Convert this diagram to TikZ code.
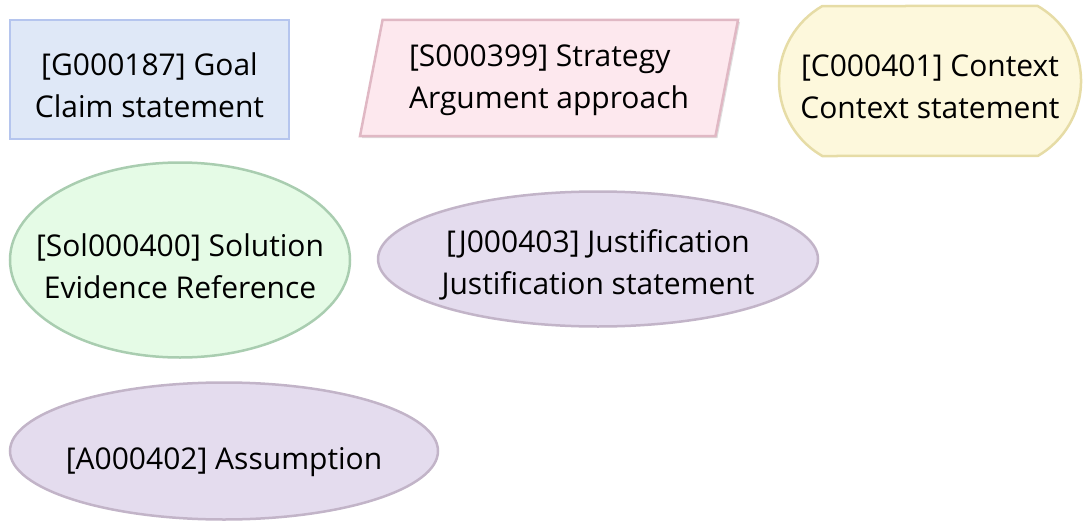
\documentclass[tikz,border=0pt]{standalone}
\usepackage{fontspec}
\setmainfont{Open Sans}
\usetikzlibrary{shapes.geometric,shapes.misc,shadows}

\definecolor{goalfill}{HTML}{DFE8F7}
\definecolor{goaldraw}{HTML}{B5C5EE}
\definecolor{stratfill}{HTML}{FDE8EE}
\definecolor{stratdraw}{HTML}{E0B8C4}
\definecolor{ctxfill}{HTML}{FDF8DC}
\definecolor{ctxdraw}{HTML}{E6DCA6}
\definecolor{solfill}{HTML}{E5FBE6}
\definecolor{soldraw}{HTML}{A9CDB0}
\definecolor{jafill}{HTML}{E4DCEE}
\definecolor{jadraw}{HTML}{C2B4C8}

\begin{document}
\begin{tikzpicture}[x=1pt,y=-1pt,line width=2.5pt,inner sep=0pt,
  every label/.style={font=\fontsize{30}{42}\selectfont,align=center,yshift=-6pt},
  goal node/.style={rectangle,fill=goalfill,draw=goaldraw},
  strategy node/.style={trapezium,trapezium left angle=79,trapezium right angle=101,
    trapezium stretches body,fill=stratfill,draw=stratdraw,
    drop shadow={shadow xshift=2pt,shadow yshift=-2pt,opacity=0.25}},
  context node/.style={rounded rectangle,rounded rectangle arc length=120,
    fill=ctxfill,draw=ctxdraw},
  solution node/.style={ellipse,fill=solfill,draw=soldraw},
  ja node/.style={ellipse,fill=jafill,draw=jadraw}]
   \useasboundingbox (0,0) rectangle (1091,532);
   \node[goal node,minimum width=279pt,minimum height=119pt,
     label={center:[G000187] Goal\\Claim statement}]              (G000187)   at (149.5,79.5) {};
   \node[strategy node,minimum width=378pt,
     label={[align=left,yshift=4pt]center:[S000399] Strategy\\Argument approach}] (S000399) at (549,78) {\rule{0pt}{116pt}};
   \node[context node,minimum width=302pt,minimum height=150pt,
     label={center:[C000401] Context\\Context statement}]         (C000401)   at (930,81)   {};
   \node[solution node,minimum width=340pt,minimum height=195pt,
     label={center:[Sol000400] Solution\\Evidence Reference}]     (Sol000400) at (180,260)  {};
   \node[ja node,minimum width=440pt,minimum height=135pt,
     label={center:[J000403] Justification\\Justification statement}] (J000403) at (598,259) {};
   \node[ja node,minimum width=428pt,minimum height=137pt,
     label={[yshift=-5pt]center:[A000402] Assumption}]            (A000402)   at (224,451)  {};
\end{tikzpicture}
\end{document}
